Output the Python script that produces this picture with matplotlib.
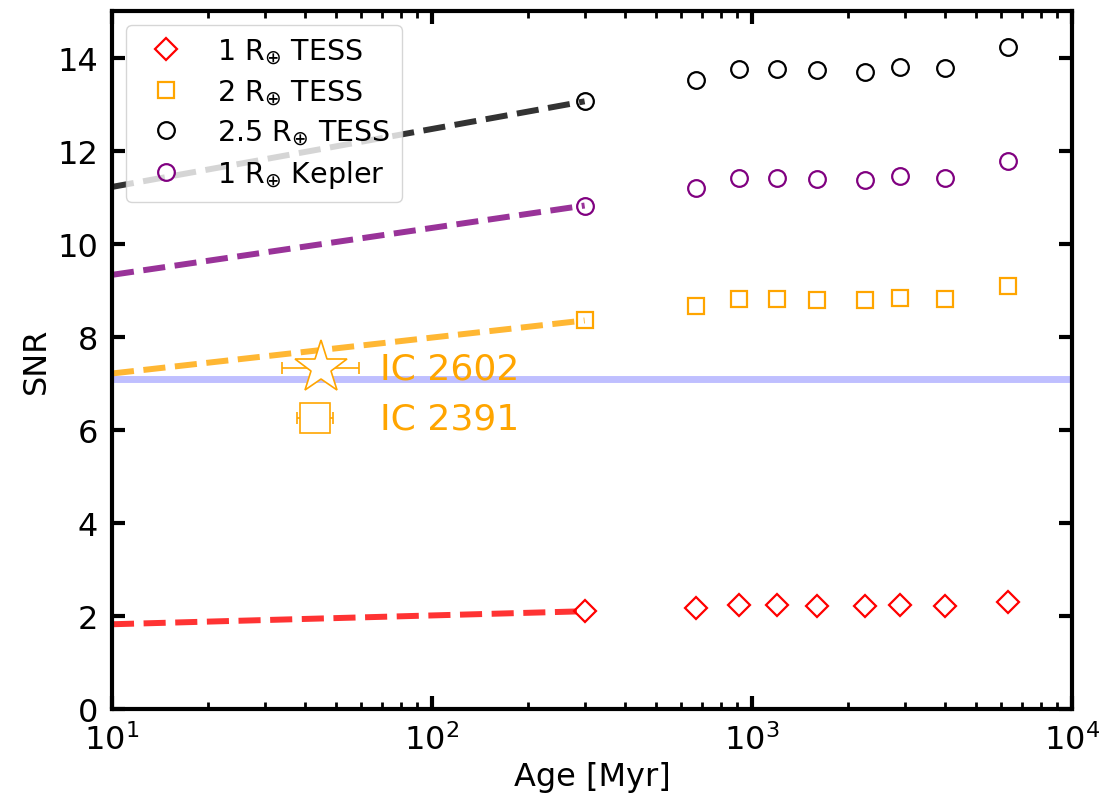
import numpy as np
import matplotlib
matplotlib.use("Agg")
import matplotlib.pyplot as plt

# wiek gromad [Myr]
ages = [300, 670, 910, 1200, 1600, 2250, 2900, 4000, 6300]

snr_1re_tess = [2.10, 2.18, 2.23, 2.23, 2.22, 2.22, 2.23, 2.22, 2.30]
snr_2re_tess = [8.35, 8.65, 8.82, 8.81, 8.79, 8.78, 8.84, 8.81, 9.10]
snr_25re_tess = [13.06, 13.51, 13.76, 13.75, 13.73, 13.70, 13.80, 13.77, 14.22]
snr_1re_kepler = [10.82, 11.20, 11.42, 11.41, 11.39, 11.37, 11.45, 11.42, 11.78]

# ekstrapolacja do mlodszych wiekow
extrap_ages = [10, 300]
extrap_1re_tess = [1.82, 2.10]
extrap_2re_tess = [7.21, 8.35]
extrap_25re_tess = [11.22, 13.06]
extrap_1re_kepler = [9.33, 10.82]

snr_threshold = 7.1

# mlode gromady
cluster_names = ["IC 2602", "IC 2391"]
cluster_ages = [45, 43]
cluster_age_err_lo = [11, 5]
cluster_age_err_hi = [14, 6]
cluster_snr = [7.32, 6.25]

plt.rcParams["font.family"] = "DejaVu Sans"
fig, ax = plt.subplots(figsize=(11.04, 8.04), dpi=100)
fig.subplots_adjust(left=0.1014, right=0.971, top=0.985, bottom=0.117)

series = [
    (snr_1re_tess, extrap_1re_tess, "red", "D", r"1 R$_{\oplus}$ TESS", 11.5),
    (snr_2re_tess, extrap_2re_tess, "orange", "s", r"2 R$_{\oplus}$ TESS", 12),
    (snr_25re_tess, extrap_25re_tess, "black", "o", r"2.5 R$_{\oplus}$ TESS", 12),
    (snr_1re_kepler, extrap_1re_kepler, "purple", "o", r"1 R$_{\oplus}$ Kepler", 12),
]

for vals, ext, col, mk, lab, ms in series:
    ax.plot(extrap_ages, ext, "--", color=col, alpha=0.8, lw=4.3, zorder=2)
    ax.plot(ages, vals, mk, mfc="none", mec=col, mew=1.6, ms=ms,
            ls="none", label=lab, zorder=3)

ax.axhline(snr_threshold, color="blue", alpha=0.25, lw=5, zorder=1)

# gwiazda i kwadrat dla gromad
cl_markers = ["*", "s"]
cl_sizes = [40, 21]
for i in range(len(cluster_names)):
    ax.errorbar(cluster_ages[i], cluster_snr[i],
                xerr=[[cluster_age_err_lo[i]], [cluster_age_err_hi[i]]],
                fmt=cl_markers[i], ms=cl_sizes[i], mfc="white", mec="orange",
                mew=1.2, ecolor="orange", elinewidth=1.2, capsize=4,
                capthick=1.2, zorder=4)
    ax.text(69, cluster_snr[i], cluster_names[i], color="orange",
            fontsize=26, va="center", ha="left", zorder=4)

ax.set_xscale("log")
ax.set_xlim(10, 1e4)
ax.set_ylim(0, 15)
ax.set_yticks([0, 2, 4, 6, 8, 10, 12, 14])
ax.set_xlabel("Age [Myr]", fontsize=23)
ax.set_ylabel("SNR", fontsize=23)
ax.tick_params(which="major", direction="in", length=9.5, width=3,
               top=True, right=True, labelsize=23, pad=10)
ax.tick_params(which="minor", direction="in", length=5, width=2,
               top=True, right=True)
for sp in ax.spines.values():
    sp.set_linewidth(3)

ax.legend(loc="upper left", fontsize=20.5, bbox_to_anchor=(0.0, 1.0),
          borderaxespad=0.5, labelspacing=0.38)

plt.savefig("out.png", dpi=100)
